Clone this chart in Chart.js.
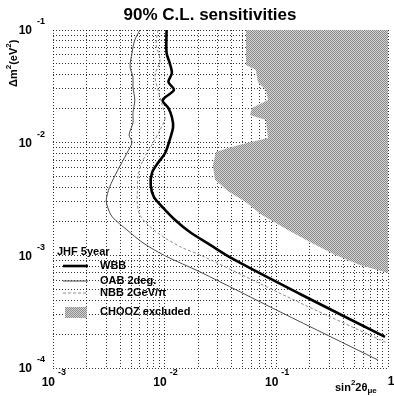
<!DOCTYPE html>
<html>
<head>
<meta charset="utf-8">
<script src="https://cdn.jsdelivr.net/npm/chart.js@4.4.0/dist/chart.umd.min.js"></script>
<style>
  html, body { margin: 0; padding: 0; background: #fff; }
  canvas { display: block; }
</style>
</head>
<body>
<canvas id="sensChart" width="394" height="396"></canvas>
<script>
// ---- data ----
const titleText = '90% C.L. sensitivities';
const legendHeader = 'JHF 5year';
const seriesNames = ['WBB', 'OAB 2deg.', 'NBB 2GeV/\u03c0', 'CHOOZ excluded'];

const xMajor = [0.001, 0.01, 0.1, 1];
const xMajorLabels = [['10', '-3'], ['10', '-2'], ['10', '-1'], ['1', '']];
const yMajor = [0.0001, 0.001, 0.01, 0.1];
const yMajorLabels = [['10', '-4'], ['10', '-3'], ['10', '-2'], ['10', '-1']];
const minorSteps = [1, 2, 3, 4, 5, 6, 7, 8, 9];

const wbbX = [0.0104, 0.0104, 0.0111, 0.0116, 0.0108, 0.0121, 0.0096, 0.0108, 0.0116, 0.0119, 0.0111, 0.0101,
  0.0087, 0.0077, 0.0075, 0.0080, 0.0097, 0.0124, 0.0168, 0.0255, 0.0408, 0.163, 0.94];
const wbbY = [0.1, 0.0625, 0.0509, 0.0415, 0.0346, 0.0294, 0.0239, 0.0203, 0.0169, 0.0138, 0.0106, 0.0081,
  0.0066, 0.0054, 0.0042, 0.0033, 0.00264, 0.00206, 0.00161, 0.00124, 0.00093, 0.000454, 0.000189];

const oabX = [0.0060, 0.0054, 0.0051, 0.0049, 0.0052, 0.0052, 0.0054, 0.0052, 0.0052, 0.0048, 0.0051, 0.0046,
  0.0038, 0.0032, 0.0030, 0.0031, 0.0034, 0.0046, 0.0064, 0.0101, 0.0207, 0.108, 0.81];
const oabY = [0.1, 0.0815, 0.0625, 0.047, 0.0383, 0.0312, 0.0239, 0.0184, 0.0150, 0.0117, 0.0101, 0.0081,
  0.0057, 0.0040, 0.0031, 0.00264, 0.00219, 0.00168, 0.00129, 0.00099, 0.000713, 0.000315, 0.000118];

const nbbX = [0.0087, 0.0084, 0.0091, 0.0082, 0.0087, 0.0095, 0.0101, 0.0091, 0.0077, 0.0064, 0.0058, 0.0057,
  0.0057, 0.0060, 0.0071, 0.0097, 0.0146, 0.0207, 0.163, 0.98];
const nbbY = [0.1, 0.0736, 0.0542, 0.0399, 0.0294, 0.0216, 0.0166, 0.0130, 0.0096, 0.0070, 0.0052, 0.0038,
  0.0028, 0.00228, 0.00186, 0.00146, 0.00116, 0.00101, 0.000379, 0.000167];

// CHOOZ excluded region boundary (closed to the top-right corner)
const choozX = [0.0535, 0.0535, 0.0656, 0.0684, 0.0807, 0.0841, 0.0605, 0.0581, 0.0807, 0.0841, 0.0472, 0.0288,
  0.0270, 0.0282, 0.0369, 0.0524, 0.0743, 0.127, 0.200, 0.335, 0.560, 1.1, 1.1];
const choozY = [0.11, 0.0489, 0.0442, 0.0346, 0.0294, 0.0239, 0.0203, 0.0176, 0.0159, 0.0110, 0.0096, 0.0083,
  0.0063, 0.0047, 0.0037, 0.0030, 0.00228, 0.00168, 0.00131, 0.00101, 0.00082, 0.00068, 0.11];

const FONT = '"Liberation Sans", Arial, sans-serif';

function pts(xs, ys) {
  return xs.map((v, i) => ({ x: v, y: ys[i] }));
}

function logTicks(majors) {
  const out = [];
  majors.forEach((m, i) => {
    if (i === majors.length - 1) { out.push({ value: m }); return; }
    minorSteps.forEach(s => out.push({ value: m * s }));
  });
  return out;
}

// stippled grey like the printed halftone
const pc = document.createElement('canvas');
pc.width = 2; pc.height = 2;
const pg = pc.getContext('2d');
pg.fillStyle = '#d4d4d4'; pg.fillRect(0, 0, 2, 2);
pg.fillStyle = '#8a8a8a'; pg.fillRect(0, 0, 1, 1); pg.fillRect(1, 1, 1, 1);
const canvas = document.getElementById('sensChart');
const ctx = canvas.getContext('2d');
const choozFill = ctx.createPattern(pc, 'repeat');

// text, tick labels and legend drawn on top of the library's scales
const overlay = {
  id: 'overlay',
  afterDraw(chart) {
    const c = chart.ctx;
    const a = chart.chartArea;
    const x = chart.scales.x, y = chart.scales.y;
    c.save();
    c.fillStyle = '#000';
    c.textBaseline = 'middle';

    c.font = 'bold 17px ' + FONT;
    c.textAlign = 'center';
    c.fillText(titleText, 210, 15);

    yMajor.forEach((v, i) => {
      const py = y.getPixelForValue(v);
      c.font = 'bold 12px ' + FONT;
      c.textAlign = 'right';
      c.fillText(yMajorLabels[i][0], a.left - 21, py + 1);
      c.font = 'bold 9px ' + FONT;
      c.textAlign = 'left';
      c.fillText(yMajorLabels[i][1], a.left - 16, py - 8);
    });

    xMajor.forEach((v, i) => {
      const px = x.getPixelForValue(v);
      const lab = xMajorLabels[i];
      c.font = 'bold 12px ' + FONT;
      if (lab[1] === '') {
        c.textAlign = 'center';
        c.fillText(lab[0], px + 3, a.bottom + 14);
        return;
      }
      c.textAlign = 'right';
      c.fillText(lab[0], px + 2, a.bottom + 15);
      c.font = 'bold 9px ' + FONT;
      c.textAlign = 'left';
      c.fillText(lab[1], px + 5, a.bottom + 5);
    });

    // x axis title: sin^2 2theta_mue
    c.textAlign = 'left';
    let tx = 335;
    const ty = 388;
    c.font = 'bold 11px ' + FONT;
    c.fillText('sin', tx, ty); tx += c.measureText('sin').width;
    c.font = 'bold 8px ' + FONT;
    c.fillText('2', tx, ty - 5); tx += c.measureText('2').width;
    c.font = 'bold 11px ' + FONT;
    c.fillText('2\u03b8', tx, ty); tx += c.measureText('2\u03b8').width;
    c.font = 'bold 8px ' + FONT;
    c.fillText('\u03bce', tx, ty + 3);

    // y axis title: delta m^2 (eV^2), rotated
    c.save();
    c.translate(14, 87);
    c.rotate(-Math.PI / 2);
    let ry = 0;
    const parts = [['\u0394m', 11, 0], ['2', 8, -5], ['(eV', 11, 0], ['2', 8, -5], [')', 11, 0]];
    parts.forEach(p => {
      c.font = 'bold ' + p[1] + 'px ' + FONT;
      c.fillText(p[0], ry, p[2]);
      ry += c.measureText(p[0]).width;
    });
    c.restore();

    // legend inside the plot
    const lx = a.left + 4;
    c.font = 'bold 11px ' + FONT;
    c.fillText(legendHeader, lx, 252);
    const rows = [266, 281, 293, 312];
    chart.data.datasets.forEach((ds, i) => {
      const ry2 = rows[i];
      if (i < 3) {
        c.save();
        c.strokeStyle = ds.borderColor;
        c.lineWidth = ds.borderWidth;
        c.setLineDash(ds.borderDash || []);
        c.beginPath();
        c.moveTo(a.left + 10, ry2);
        c.lineTo(a.left + 35, ry2);
        c.stroke();
        c.restore();
      } else {
        c.fillStyle = choozFill;
        c.fillRect(a.left + 12, ry2 - 5, 22, 11);
        c.fillStyle = '#000';
      }
      c.font = 'bold 11px ' + FONT;
      c.fillText(seriesNames[i], a.left + 47, ry2);
    });
    c.restore();
  }
};

const gridOpts = {
  color: 'rgba(0,0,0,0.8)',
  lineWidth: 1,
  drawTicks: false,
  tickLength: 0
};

new Chart(ctx, {
  type: 'line',
  data: {
    datasets: [
      {
        label: seriesNames[0], data: pts(wbbX, wbbY),
        borderColor: '#000', borderWidth: 2.6, pointRadius: 0, tension: 0.3, fill: false
      },
      {
        label: seriesNames[1], data: pts(oabX, oabY),
        borderColor: '#4a4a4a', borderWidth: 1, pointRadius: 0, tension: 0.3, fill: false
      },
      {
        label: seriesNames[2], data: pts(nbbX, nbbY),
        borderColor: '#8c8c8c', borderWidth: 1, borderDash: [3, 2], pointRadius: 0, tension: 0.3, fill: false
      },
      {
        label: seriesNames[3], data: pts(choozX, choozY),
        borderColor: 'rgba(0,0,0,0)', borderWidth: 0, backgroundColor: choozFill,
        pointRadius: 0, tension: 0, fill: 'shape'
      }
    ]
  },
  options: {
    responsive: false,
    animation: false,
    devicePixelRatio: 1,
    layout: { padding: { top: 30, right: 6, left: 0, bottom: 0 } },
    plugins: {
      legend: { display: false },
      title: { display: false },
      tooltip: { enabled: false }
    },
    scales: {
      x: {
        type: 'logarithmic', min: 0.001, max: 1,
        afterBuildTicks: s => { s.ticks = logTicks(xMajor); },
        afterFit: s => { s.height = 28; },
        ticks: { display: false },
        grid: gridOpts,
        border: { display: false, dash: [1, 2] }
      },
      y: {
        type: 'logarithmic', min: 0.0001, max: 0.1,
        afterBuildTicks: s => { s.ticks = logTicks(yMajor); },
        afterFit: s => { s.width = 53; },
        ticks: { display: false },
        grid: gridOpts,
        border: { display: false, dash: [1, 2] }
      }
    }
  },
  plugins: [overlay]
});
</script>
</body>
</html>
